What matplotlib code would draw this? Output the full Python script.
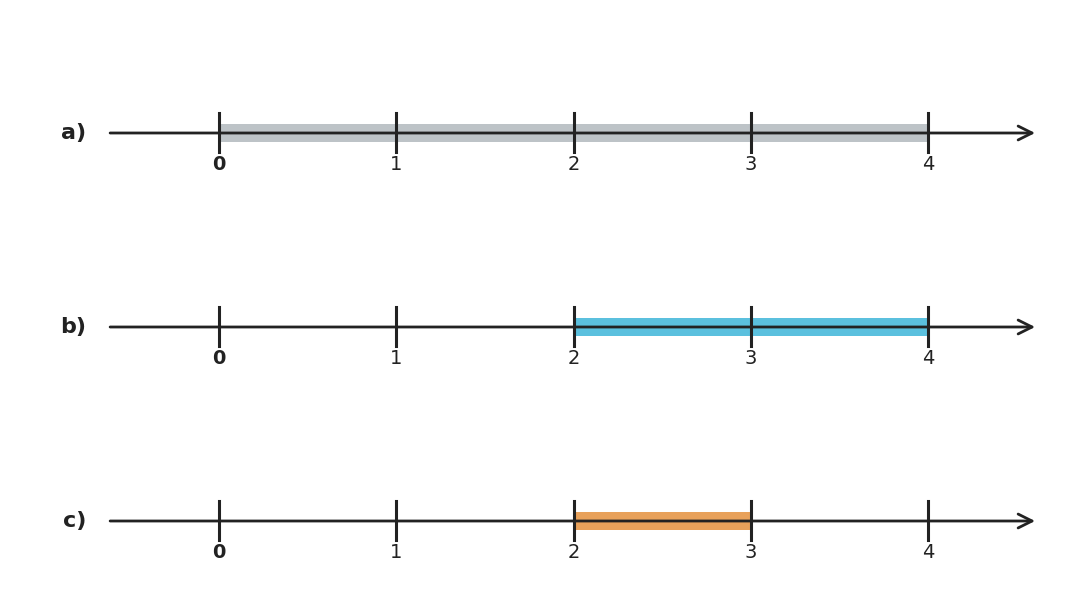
import matplotlib
matplotlib.use("Agg")
import matplotlib.pyplot as plt

labels = ["a)", "b)", "c)"]
starts = [0, 2, 2]
ends = [4, 4, 3]
colors = ["#bdc3c7", "#5bc0de", "#e8a15a"]
ticks = [0, 1, 2, 3, 4]

fig = plt.figure(figsize=(10.75, 6.15), dpi=100)
ax = fig.add_axes([0, 0, 1, 1])
ax.set_xlim(-219/177.25, (1075-219)/177.25)
ax.set_ylim(615, 0)
ax.axis("off")
dark = "#222222"
rows = [133, 327, 521]
for lab, s, e, c, y in zip(labels, starts, ends, colors, rows):
    ax.barh(y, e - s, left=s, height=18, color=c, zorder=1)
    ax.annotate("", xy=(4.62, y), xytext=(-0.63, y),
                arrowprops=dict(arrowstyle="->", color=dark, lw=2, mutation_scale=25), zorder=2)
    for t in ticks:
        ax.plot([t, t], [y - 20, y + 19], color=dark, lw=2.2, zorder=3)
        ax.text(t, y + 31, str(t), ha="center", va="center", fontsize=14, color=dark,
                fontweight="bold" if t == 0 else "normal")
    ax.text(-0.75, y, lab, ha="right", va="center", fontsize=16, fontweight="bold", color=dark)
fig.savefig("out.png", dpi=100)
